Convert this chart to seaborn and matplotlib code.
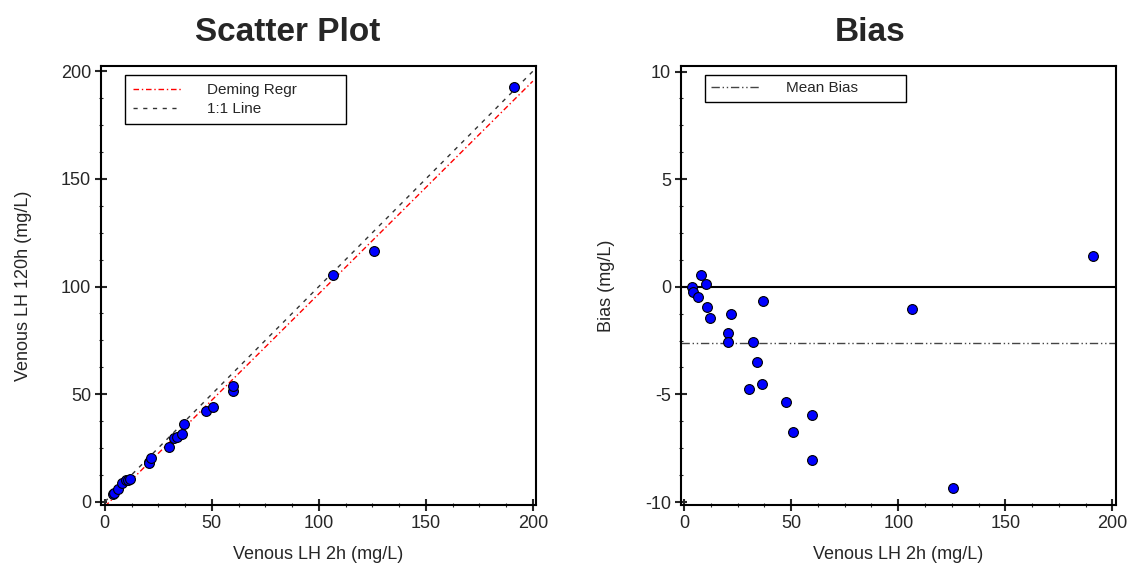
import numpy as np
import pandas as pd
import matplotlib
matplotlib.use('Agg')
import matplotlib.pyplot as plt
import seaborn as sns
from matplotlib.ticker import MultipleLocator

# valores (mg/L)
lh_2h = [3.7, 4.2, 6.3, 8.1, 10.1, 10.9, 11.9, 20.6, 20.6, 21.8, 30.2,
         32.2, 33.8, 36.2, 36.9, 47.5, 50.7, 59.7, 59.8, 106.4, 125.7, 191.1]
lh_120h = [3.69, 3.97, 5.81, 8.64, 10.23, 9.97, 10.43, 18.46, 18.03, 20.53, 25.44,
           29.64, 30.30, 31.68, 36.25, 42.13, 43.94, 51.65, 53.84, 105.36, 116.35, 192.55]
mean_bias = -2.63
line_range = [0, 200]

dados = pd.DataFrame({'x': lh_2h, 'y': lh_120h})
dados['bias'] = dados['y'] - dados['x']

# regressao de Deming (lambda = 1)
mx, my = dados['x'].mean(), dados['y'].mean()
sxx = ((dados['x'] - mx) ** 2).mean()
syy = ((dados['y'] - my) ** 2).mean()
sxy = ((dados['x'] - mx) * (dados['y'] - my)).mean()
slope = (syy - sxx + np.sqrt((syy - sxx) ** 2 + 4 * sxy ** 2)) / (2 * sxy)
intercept = my - slope * mx

sns.set_style('ticks')
plt.rcParams['font.family'] = ['Liberation Sans', 'DejaVu Sans']
plt.rcParams['axes.unicode_minus'] = False

fig = plt.figure(figsize=(11.33, 5.7), dpi=100)
ax1 = fig.add_axes([0.0891, 0.114, 0.384, 0.770])
ax2 = fig.add_axes([0.601, 0.114, 0.384, 0.770])

# scatter plot
fx = np.array(line_range, dtype=float)
ax1.plot(fx, intercept + slope * fx, color='red', lw=1, ls=(0, (4, 2, 1, 2)), label='Deming Regr')
ax1.plot(fx, fx, color='#333333', lw=1, ls=(0, (3, 4)), label='1:1 Line')
sns.scatterplot(data=dados, x='x', y='y', ax=ax1, color='#0000FF', edgecolor='black',
                s=50, linewidth=0.8, zorder=5)
ax1.set_xlim(-1.8, 201.5)
ax1.set_ylim(-1.5, 202.4)
ax1.set_title('Scatter Plot', fontsize=24, fontweight='bold', x=0.43, pad=18)
ax1.set_xlabel('Venous LH 2h (mg/L)', fontsize=13, labelpad=10)
ax1.set_ylabel('Venous LH 120h (mg/L)', fontsize=13, labelpad=21)
ax1.xaxis.set_major_locator(MultipleLocator(50))
ax1.xaxis.set_minor_locator(MultipleLocator(12.5))
ax1.yaxis.set_major_locator(MultipleLocator(50))
ax1.yaxis.set_minor_locator(MultipleLocator(12.5))
ax1.legend(loc='upper left', bbox_to_anchor=(0.055, 0.979, 0.508, 0.0), mode='expand',
           borderaxespad=0, fontsize=11, handlelength=3.2, handletextpad=1.7,
           borderpad=0.5, labelspacing=0.35, frameon=True, fancybox=False,
           edgecolor='black', framealpha=1)

# bias
ax2.axhline(0, color='black', lw=1.5)
ax2.axhline(mean_bias, color='#444444', lw=1, ls=(0, (6, 2, 1, 2, 1, 2)), label='Mean Bias')
sns.scatterplot(data=dados, x='x', y='bias', ax=ax2, color='#0000FF', edgecolor='black',
                s=50, linewidth=0.8, zorder=5)
ax2.set_xlim(-1.5, 201.7)
ax2.set_ylim(-10.14, 10.25)
ax2.set_title('Bias', fontsize=24, fontweight='bold', x=0.434, pad=18)
ax2.set_xlabel('Venous LH 2h (mg/L)', fontsize=13, labelpad=10)
ax2.set_ylabel('Bias (mg/L)', fontsize=13, labelpad=22)
ax2.xaxis.set_major_locator(MultipleLocator(50))
ax2.xaxis.set_minor_locator(MultipleLocator(12.5))
ax2.yaxis.set_major_locator(MultipleLocator(5))
ax2.yaxis.set_minor_locator(MultipleLocator(1.25))
ax2.legend(loc='upper left', bbox_to_anchor=(0.055, 0.979, 0.462, 0.0), mode='expand',
           borderaxespad=0, fontsize=11, handlelength=3.2, handletextpad=1.7,
           borderpad=0.4, frameon=True, fancybox=False, edgecolor='black',
           framealpha=1)

for ax in (ax1, ax2):
    for s in ax.spines.values():
        s.set_linewidth(1.5)
        s.set_color('black')
    ax.tick_params(which='major', direction='inout', length=8, width=1.5, labelsize=13, pad=3)
    ax.tick_params(which='minor', direction='inout', length=3, width=0.8)

fig.savefig('out.png', dpi=100)
